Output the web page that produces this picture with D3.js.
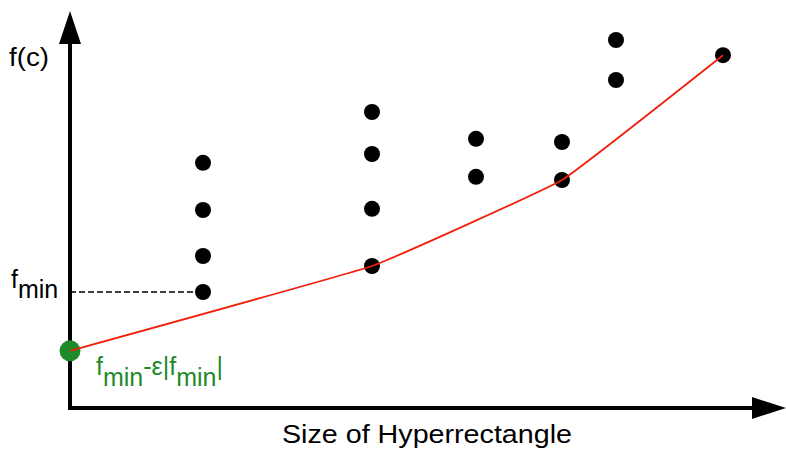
<!DOCTYPE html>
<html>
<head>
<meta charset="utf-8">
<script src="https://cdn.jsdelivr.net/npm/d3@7"></script>
<style>
  html, body { margin: 0; padding: 0; background: #fff; }
  svg { display: block; }
  text { font-family: "Liberation Sans", Arial, sans-serif; }
</style>
</head>
<body>
<svg id="chart" width="786" height="449"></svg>
<script>
// ---- data (abstract units) ----
const sizes = [1.33, 3.02, 4.06, 4.92, 5.46, 6.53];           // hyperrectangle sizes (columns)
const colValues = [
  [6.13, 4.95, 3.80, 2.90],
  [7.40, 6.35, 4.98, 3.55],
  [6.73, 5.78],
  [6.65, 5.70],
  [9.20, 8.20],
  [8.82]
];
const hullX = [0, 3.02, 4.92, 6.53];
const hullY = [1.43, 3.55, 5.70, 8.82];
const fmin = 2.90;
const fminX = 1.33;
const lowerBound = { x: 0, y: 1.43 };
const labels = { y: "f(c)", x: "Size of Hyperrectangle" };

// ---- scales ----
const svg = d3.select("#chart");
const x = d3.scaleLinear().domain([0, 7.16]).range([70, 786]);
const y = d3.scaleLinear().domain([0, 10]).range([408, 8]);

// dashed fmin line
svg.append("line")
  .attr("x1", x(0)).attr("x2", x(fminX))
  .attr("y1", y(fmin)).attr("y2", y(fmin))
  .attr("stroke", "#000").attr("stroke-width", 1.3)
  .attr("stroke-dasharray", "6,3");

// axes
const x0 = x(0), y0 = y(0);
svg.append("line").attr("x1", x0).attr("x2", x0).attr("y1", y0 + 2).attr("y2", 40)
  .attr("stroke", "#000").attr("stroke-width", 4);
svg.append("path").attr("d", `M${x0 - 11},44 L${x0},11 L${x0 + 11},44 Z`).attr("fill", "#000");
svg.append("line").attr("x1", x0 - 2).attr("x2", 756).attr("y1", y0).attr("y2", y0)
  .attr("stroke", "#000").attr("stroke-width", 4);
svg.append("path").attr("d", `M752,${y0 - 11} L786,${y0} L752,${y0 + 11} Z`).attr("fill", "#000");

// dots
const pts = [];
sizes.forEach((s, i) => colValues[i].forEach(v => pts.push({ s, v })));
svg.selectAll("circle.pt").data(pts).enter().append("circle")
  .attr("class", "pt")
  .attr("cx", d => x(d.s)).attr("cy", d => y(d.v)).attr("r", 8)
  .attr("fill", "#000");

// green lower bound dot
svg.append("circle").attr("cx", x(lowerBound.x)).attr("cy", y(lowerBound.y)).attr("r", 10.5)
  .attr("fill", "#1e8a2a");

// red hull line
const line = d3.line().x(d => x(d[0])).y(d => y(d[1])).curve(d3.curveCardinal.tension(0.75));
svg.append("path").datum(hullX.map((v, i) => [v, hullY[i]]))
  .attr("d", line).attr("fill", "none").attr("stroke", "#f0200c").attr("stroke-width", 1.8);

// labels
svg.append("text").attr("x", 9).attr("y", 66).attr("font-size", 25)
  .attr("textLength", 40).attr("lengthAdjust", "spacingAndGlyphs").text(labels.y);

const fl = svg.append("text").attr("x", 11).attr("y", 288).attr("font-size", 25);
fl.append("tspan").text("f");
fl.append("tspan").attr("dy", 10).text("min");

const gl = svg.append("text").attr("x", 96).attr("y", 375).attr("font-size", 25).attr("fill", "#1e8a2a");
gl.append("tspan").text("f");
gl.append("tspan").attr("dy", 11).text("min");
gl.append("tspan").attr("dy", -11).text("-ε|f");
gl.append("tspan").attr("dy", 11).text("min");
gl.append("tspan").attr("dy", -11).text("|");

svg.append("text").attr("x", 282).attr("y", 443)
  .attr("font-size", 25).attr("textLength", 290).attr("lengthAdjust", "spacingAndGlyphs")
  .text(labels.x);
</script>
</body>
</html>
